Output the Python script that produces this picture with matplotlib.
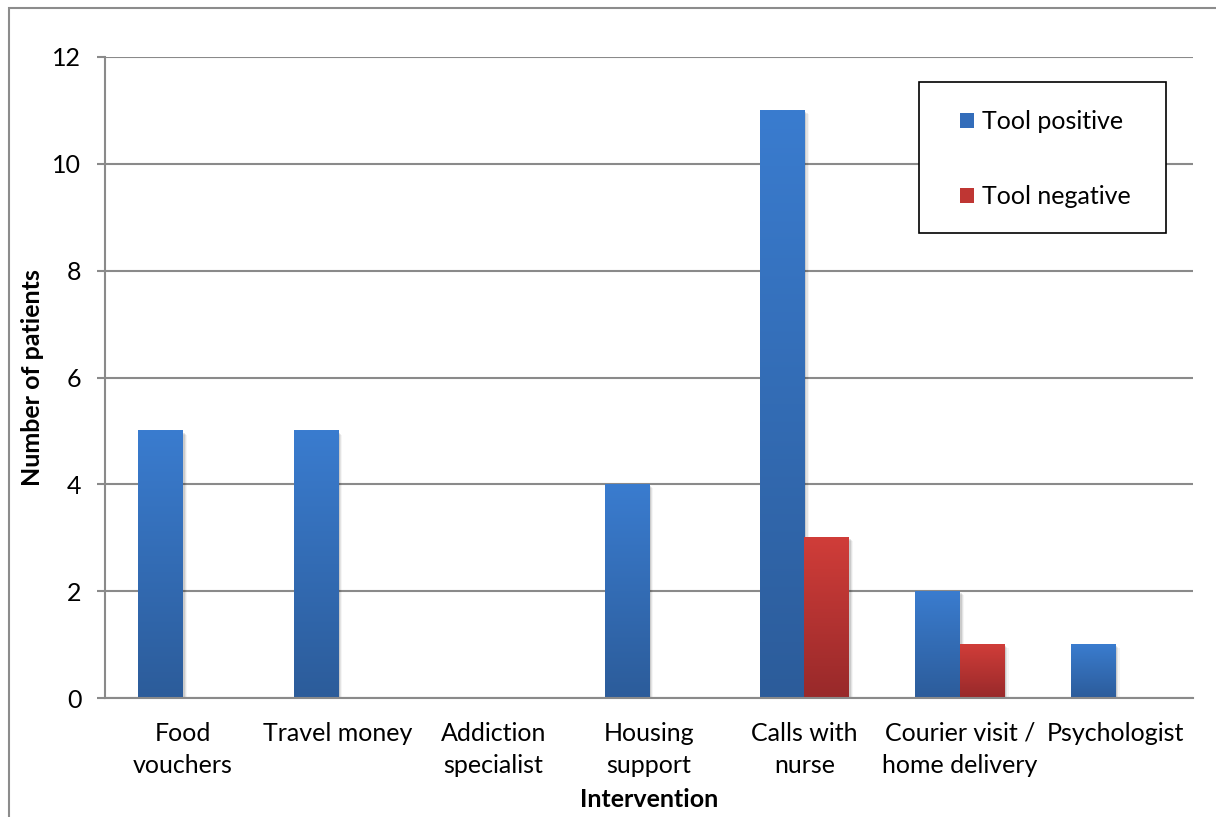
import numpy as np
import matplotlib
matplotlib.use("Agg")
import matplotlib.pyplot as plt
from matplotlib.patches import Rectangle, Patch
from matplotlib.colors import LinearSegmentedColormap

categories = ["Food\nvouchers", "Travel money", "Addiction\nspecialist",
              "Housing\nsupport", "Calls with\nnurse",
              "Courier visit /\nhome delivery", "Psychologist"]
tool_positive = [5, 5, 0, 4, 11, 2, 1]
tool_negative = [0, 0, 0, 0, 3, 1, 0]
series_names = ["Tool positive", "Tool negative"]

plt.rcParams['font.family'] = ['Lato', 'DejaVu Sans']
FS = 18

W, H = 1216, 817
fig = plt.figure(figsize=(W / 100, H / 100), dpi=100)
ax = fig.add_axes([105 / W, 1 - 698 / H, 1088 / W, 641 / H])

# outer chart border (left and top edges visible)
fig.patches.append(Rectangle((9 / W, -0.2), 1.5, 1 - 8 / H + 0.2,
                             transform=fig.transFigure, fill=False,
                             edgecolor="#8c8c8c", linewidth=1.5))

blue_cmap = LinearSegmentedColormap.from_list("b", ["#2c5c9a", "#3a7ccf"])
red_cmap = LinearSegmentedColormap.from_list("r", ["#98292a", "#d03d39"])
grad = np.linspace(0, 1, 256).reshape(-1, 1)

x = np.arange(len(categories))
w = 1 / 3.5


def gradient_bars(xs, vals, cmap, zorder):
    bars = ax.bar(xs, vals, width=w, color="none", edgecolor="none",
                  zorder=zorder)
    for b in bars:
        h = b.get_height()
        if h <= 0:
            continue
        x0 = b.get_x()
        # soft drop shadow
        for k, a in enumerate([0.10, 0.07, 0.04]):
            off = 0.012 + k * 0.008
            ax.add_patch(Rectangle((x0 + off, -0.03 - k * 0.02), w, h,
                                   facecolor="black", alpha=a,
                                   edgecolor="none", zorder=zorder - 0.5))
        ax.imshow(grad, cmap=cmap, origin="lower", aspect="auto",
                  extent=(x0, x0 + w, 0, h), zorder=zorder,
                  interpolation="bilinear")
    return bars


gradient_bars(x - w / 2, tool_positive, blue_cmap, 3)
gradient_bars(x + w / 2, tool_negative, red_cmap, 3)
ax.set_xlim(-0.5, len(categories) - 0.5)
ax.set_ylim(0, 12)
ax.set_aspect("auto")

ax.set_yticks(range(0, 13, 2))
ax.yaxis.grid(True, color="#8a8a8a", linewidth=1.5)
ax.set_axisbelow(True)
for s in ["top", "right"]:
    ax.spines[s].set_visible(False)
for s in ["left", "bottom"]:
    ax.spines[s].set_color("#8a8a8a")
    ax.spines[s].set_linewidth(1.5)
    ax.spines[s].set_zorder(5)

ax.set_xticks(x)
ax.set_xticklabels(categories, fontsize=FS, linespacing=1.5)
ax.tick_params(axis="x", length=0, pad=17)
ax.tick_params(axis="y", length=6, width=1.5, color="#8a8a8a",
               labelsize=FS, pad=11)

ax.set_ylabel("Number of patients", fontsize=FS, fontweight="bold",
              labelpad=6)
ax.set_xlabel("Intervention", fontsize=FS, fontweight="bold", labelpad=8)

# legend box drawn separately so its size can be set exactly
ax.add_patch(Rectangle((814 / 1088, 465 / 641), 247 / 1088, 151 / 641,
                       transform=ax.transAxes, facecolor="white",
                       edgecolor="black", linewidth=1.2, zorder=9))
handles = [Patch(facecolor="#336dba", edgecolor="none"),
           Patch(facecolor="#bf3633", edgecolor="none")]
leg = ax.legend(handles, series_names, loc="upper left",
                bbox_to_anchor=(855 / 1088, 588 / 641), fontsize=FS,
                frameon=False, handlelength=0.55, handleheight=0.55,
                handletextpad=0.35, labelspacing=2.1, borderpad=0,
                borderaxespad=0)
leg.set_zorder(10)

fig.savefig("out.png", dpi=100, facecolor="white")
